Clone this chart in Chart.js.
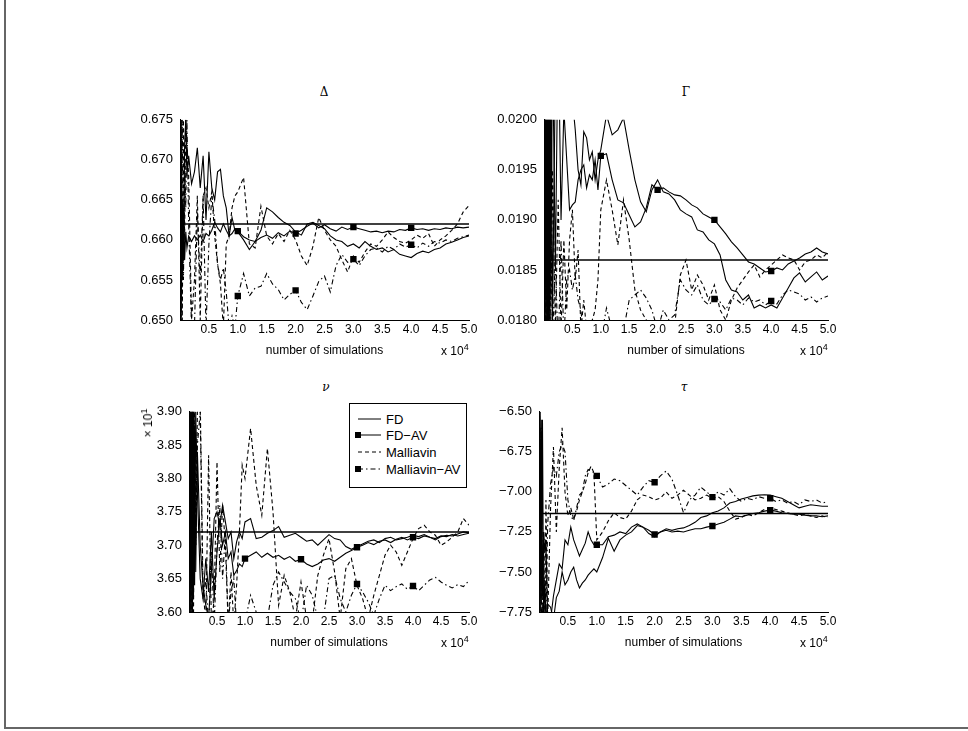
<!DOCTYPE html>
<html><head><meta charset="utf-8">
<script src="https://cdn.jsdelivr.net/npm/chart.js@4.4.1/dist/chart.umd.min.js"></script>
<style>
html,body{margin:0;padding:0;background:#fff;}
body{width:968px;height:731px;position:relative;overflow:hidden;font-family:"Liberation Sans",Arial,sans-serif;color:#000;}
#frame{position:absolute;left:4px;top:-2px;width:970px;height:729px;border-left:2px solid #666;border-bottom:2px solid #666;}
.panel{position:absolute;}
.panel canvas{display:block;}
.ttl{position:absolute;font-family:"DejaVu Serif","Liberation Serif",serif;font-size:12px;color:#000;transform:translate(-50%,-50%);white-space:nowrap;}
.exp{position:absolute;font-size:12px;white-space:nowrap;}
.exp sup{font-size:9px;vertical-align:5px;line-height:0;}
#legend{position:absolute;left:349px;top:403px;width:116px;height:83px;border:1px solid #000;background:#fff;font-size:13px;}
#legend svg{position:absolute;left:0;top:0;}
#legend span{position:absolute;left:36px;white-space:nowrap;transform:translateY(-50%);}
#yexp{position:absolute;left:148px;top:423px;font-size:12px;white-space:nowrap;transform:translate(-50%,-50%) rotate(-90deg);}
#yexp sup{font-size:9px;vertical-align:5px;line-height:0;}
</style>
</head><body>
<div id="frame"></div>

<div class="ttl" style="left:324px;top:92px;">Δ</div>
<div class="ttl" style="left:686px;top:92px;">Γ</div>
<div class="ttl" style="left:326px;top:387px;font-style:italic;">ν</div>
<div class="ttl" style="left:684px;top:387px;font-style:italic;">τ</div>

<div class="panel" style="left:100px;top:105px;"><canvas id="cDelta" width="384" height="265"></canvas></div>
<div class="panel" style="left:464px;top:105px;"><canvas id="cGamma" width="379" height="265"></canvas></div>
<div class="panel" style="left:109px;top:397px;"><canvas id="cVega" width="375" height="265"></canvas></div>
<div class="panel" style="left:459px;top:397px;"><canvas id="cTheta" width="384" height="265"></canvas></div>

<div class="exp" style="left:441px;top:344px;">x 10<sup>4</sup></div>
<div class="exp" style="left:800px;top:344px;">x 10<sup>4</sup></div>
<div class="exp" style="left:441px;top:636px;">x 10<sup>4</sup></div>
<div class="exp" style="left:800px;top:636px;">x 10<sup>4</sup></div>
<div id="yexp">× 10<sup>1</sup></div>

<div id="legend">
<svg width="116" height="83">
  <line x1="8" y1="15" x2="31" y2="15" stroke="#000" stroke-width="1"/>
  <line x1="8" y1="31" x2="31" y2="31" stroke="#000" stroke-width="1"/>
  <rect x="5" y="28" width="6" height="6" fill="#000"/>
  <line x1="8" y1="48" x2="31" y2="48" stroke="#000" stroke-width="1" stroke-dasharray="4,3"/>
  <line x1="8" y1="65" x2="31" y2="65" stroke="#000" stroke-width="1" stroke-dasharray="5,3,1.5,3"/>
  <rect x="5" y="62" width="6" height="6" fill="#000"/>
</svg>
<span style="top:15px;">FD</span>
<span style="top:31px;">FD−AV</span>
<span style="top:48px;">Malliavin</span>
<span style="top:65px;">Malliavin−AV</span>
</div>

<script>
// number of simulations (x 10^4)
const xs = [0.01,0.02,0.04,0.06,0.08,0.1,0.12,0.15,0.2,0.25,0.3,0.35,0.4,0.45,0.5,0.55,0.6,0.65,0.7,0.75,0.8,0.85,0.9,0.95,
  1.0,1.1,1.2,1.3,1.4,1.5,1.6,1.7,1.8,1.9,2.0,2.1,2.2,2.3,2.4,2.5,2.6,2.7,2.8,2.9,3.0,3.1,3.2,3.3,3.4,3.5,3.6,3.7,3.8,3.9,
  4.0,4.1,4.2,4.3,4.4,4.5,4.6,4.7,4.8,4.9,5.0];
const markerXs = [1.0, 2.0, 3.0, 4.0];
const xTicks = [0, 0.5, 1.0, 1.5, 2.0, 2.5, 3.0, 3.5, 4.0, 4.5, 5.0];

// ---- Delta ----
const deltaTrue = [0.6620];
const deltaFD = [0.675,0.650,0.665,0.6575,0.672,0.675,0.668,0.6705,0.667,0.6685,0.6715,0.6665,0.6705,0.6625,0.6710,0.6665,0.6650,0.6685,0.6688,0.6655,0.6640,0.6605,0.6628,0.6612,
  0.6610,0.6600,0.6588,0.6598,0.6612,0.6640,0.6635,0.6628,0.6622,0.6618,
  0.6610,0.6606,0.6620,0.6622,0.6618,0.6614,0.6605,0.6600,0.6598,0.6592,
  0.6595,0.6590,0.6598,0.6592,0.6588,0.6590,0.6585,0.6588,0.6582,0.6580,
  0.6578,0.6583,0.6586,0.6584,0.6588,0.6590,0.6595,0.6597,0.6600,0.6603,0.6605];
const deltaFDAV = [0.650,0.675,0.655,0.664,0.6575,0.661,0.659,0.6605,0.6598,0.6605,0.6600,0.6606,0.6598,0.6608,0.6605,0.6612,0.6622,0.6615,0.6610,0.6620,0.6612,0.6605,0.6608,0.6614,
  0.6611,0.6604,0.6600,0.6598,0.6603,0.6606,0.6602,0.6609,0.6605,0.6611,
  0.6608,0.6612,0.6617,0.6621,0.6615,0.6619,0.6614,0.6611,0.6616,0.6613,
  0.6616,0.6614,0.6612,0.6610,0.6611,0.6609,0.6611,0.6610,0.6613,0.6612,
  0.6615,0.6613,0.6614,0.6612,0.6614,0.6613,0.6615,0.6614,0.6616,0.6615,0.6616];
const deltaMal = [0.650,0.675,0.650,0.675,0.660,0.675,0.672,0.668,0.650,0.655,0.6655,0.650,0.6655,0.6665,0.664,0.666,0.6605,0.657,0.6545,0.649,0.6595,0.6605,0.664,0.6655,
  0.6660,0.6678,0.6595,0.6590,0.6642,0.6605,0.6595,0.6608,0.6598,0.6612,
  0.6600,0.6580,0.6568,0.6592,0.6628,0.6612,0.6600,0.6592,0.6575,0.6560,
  0.6580,0.6572,0.6585,0.6595,0.6592,0.6600,0.6610,0.6603,0.6598,0.6596,
  0.6600,0.6606,0.6602,0.6608,0.6592,0.6600,0.6605,0.6612,0.6620,0.6635,0.6643];
const deltaMalAV = [0.675,0.649,0.675,0.655,0.670,0.664,0.675,0.662,0.649,0.649,0.6635,0.655,0.6655,0.649,0.6595,0.6655,0.6625,0.657,0.655,0.6565,0.6535,0.649,0.6505,0.649,
  0.6530,0.6558,0.6530,0.6540,0.6542,0.6558,0.6545,0.6538,0.6525,0.6532,
  0.6537,0.6522,0.6513,0.6530,0.6548,0.6555,0.6535,0.6568,0.6582,0.6572,
  0.6576,0.6568,0.6580,0.6588,0.6590,0.6585,0.6592,0.6588,0.6595,0.6591,
  0.6594,0.6590,0.6596,0.6592,0.6598,0.6596,0.6600,0.6598,0.6602,0.6604,0.6606];
const deltaTicks = [0.650, 0.655, 0.660, 0.665, 0.670, 0.675];

// ---- Gamma ----
const gammaTrue = [0.0186];
const gammaFD = [0.0215,0.0175,0.0215,0.0175,0.0212,0.0178,0.0210,0.0180,0.0205,0.0210,0.0208,0.0206,0.0204,0.0203,0.0202,0.0199,0.0195,0.01935,0.01988,0.01982,0.0196,0.01968,0.0194,0.0196,
  0.0197,0.02005,0.01985,0.0199,0.02002,0.0197,0.0194,0.01918,0.01908,0.0193,
  0.0194,0.01928,0.01926,0.0192,0.0191,0.01906,0.01903,0.0189,0.01888,0.0188,
  0.01876,0.01865,0.0184,0.0183,0.01828,0.0182,0.01825,0.01812,0.01815,0.01812,
  0.01815,0.01812,0.01822,0.01832,0.01842,0.01847,0.01838,0.01843,0.01848,0.0184,0.01844];
const gammaFDAV = [0.0175,0.0215,0.0178,0.0212,0.0180,0.0210,0.0182,0.0208,0.0185,0.0210,0.0190,0.0201,0.0196,0.0191,0.01915,0.01918,0.0194,0.0195,0.01955,0.01932,0.01945,0.0194,0.0196,0.0193,
  0.01964,0.01966,0.0194,0.0192,0.01917,0.01905,0.01893,0.01898,0.01912,0.01935,
  0.0193,0.01932,0.01928,0.01925,0.01924,0.0192,0.01915,0.01912,0.01906,0.01903,
  0.0190,0.01893,0.01886,0.01878,0.01872,0.01865,0.01858,0.01856,0.01852,0.01848,
  0.01849,0.01852,0.0185,0.01856,0.01859,0.01862,0.01866,0.01868,0.01872,0.01868,0.01866];
const gammaMal = [0.0175,0.0205,0.0176,0.0200,0.0178,0.0198,0.0179,0.0195,0.0179,0.0192,0.0179,0.0188,0.0181,0.0188,0.0191,0.0184,0.0187,0.0179,0.0182,0.0179,0.0179,0.0180,0.0181,0.0184,
  0.0191,0.0194,0.0191,0.01875,0.0192,0.0188,0.0183,0.0181,0.0180,0.01795,
  0.0179,0.0179,0.0179,0.01795,0.01845,0.0186,0.0183,0.01845,0.01835,0.0182,
  0.01835,0.0181,0.0180,0.0182,0.01832,0.0184,0.01848,0.01855,0.01843,0.0185,
  0.01855,0.0186,0.01865,0.01862,0.0186,0.0185,0.01858,0.0186,0.01865,0.01862,0.01868];
const gammaMalAV = [0.0200,0.0175,0.0196,0.0175,0.0193,0.0176,0.0191,0.0178,0.0186,0.0177,0.0188,0.0178,0.0184,0.0185,0.0183,0.01845,0.0182,0.0181,0.0178,0.0179,0.01795,0.0178,0.0179,0.0178,
  0.0178,0.01812,0.0179,0.0178,0.0179,0.0182,0.01825,0.0183,0.01822,0.0181,
  0.0179,0.0181,0.0180,0.01805,0.0184,0.0183,0.01825,0.01835,0.0182,0.01815,
  0.01821,0.01818,0.0181,0.01822,0.0182,0.01815,0.01822,0.01818,0.0182,0.01815,
  0.01819,0.01816,0.01825,0.0183,0.01828,0.01826,0.0182,0.01823,0.01818,0.01822,0.01824];
const gammaTicks = [0.0180, 0.0185, 0.0190, 0.0195, 0.0200];

// ---- Vega (x 10^1) ----
const vegaTrue = [3.72];
const vegaFD = [3.55,3.95,3.58,3.95,3.62,3.88,3.66,3.84,3.70,3.64,3.61,3.59,3.66,3.74,3.75,3.73,3.76,3.735,3.71,3.72,3.68,3.705,3.72,3.71,
  3.735,3.74,3.71,3.712,3.718,3.722,3.728,3.712,3.715,3.718,
  3.712,3.706,3.708,3.70,3.708,3.716,3.71,3.708,3.698,3.694,
  3.698,3.702,3.706,3.708,3.704,3.71,3.712,3.708,3.71,3.712,
  3.715,3.713,3.716,3.712,3.71,3.714,3.713,3.716,3.714,3.716,3.718];
const vegaFDAV = [3.95,3.55,3.95,3.55,3.92,3.64,3.90,3.78,3.65,3.62,3.68,3.63,3.72,3.62,3.69,3.74,3.70,3.72,3.68,3.69,3.655,3.662,3.672,3.668,
  3.68,3.685,3.69,3.682,3.688,3.682,3.685,3.679,3.683,3.676,
  3.679,3.672,3.668,3.672,3.678,3.68,3.676,3.682,3.688,3.692,
  3.697,3.70,3.704,3.701,3.706,3.708,3.704,3.709,3.712,3.708,
  3.712,3.71,3.714,3.712,3.708,3.713,3.715,3.714,3.717,3.72,3.719];
const vegaMal = [3.58,3.90,3.55,3.95,3.58,3.95,3.70,3.90,3.92,3.64,3.58,3.835,3.58,3.62,3.825,3.66,3.76,3.70,3.58,3.66,3.58,3.64,3.72,3.82,
  3.80,3.875,3.79,3.745,3.845,3.75,3.61,3.655,3.63,3.59,
  3.645,3.59,3.585,3.655,3.685,3.71,3.66,3.59,3.665,3.68,
  3.64,3.62,3.59,3.625,3.655,3.685,3.70,3.69,3.67,3.69,
  3.71,3.725,3.73,3.72,3.715,3.70,3.705,3.712,3.72,3.74,3.73];
const vegaMalAV = [3.95,3.58,3.90,3.62,3.90,3.85,3.70,3.85,3.90,3.62,3.65,3.58,3.69,3.58,3.70,3.76,3.65,3.72,3.58,3.63,3.65,3.58,3.58,3.59,
  3.585,3.625,3.60,3.59,3.59,3.64,3.66,3.645,3.63,3.62,
  3.585,3.64,3.625,3.59,3.59,3.65,3.655,3.62,3.60,3.625,
  3.642,3.63,3.615,3.595,3.62,3.64,3.632,3.638,3.642,3.634,
  3.639,3.632,3.64,3.648,3.652,3.645,3.64,3.636,3.641,3.638,3.647];
const vegaTicks = [3.60, 3.65, 3.70, 3.75, 3.80, 3.85, 3.90];

// ---- Theta ----
const thetaTrue = [-7.135];
const thetaFD = [-7.80,-6.50,-7.70,-6.55,-7.80,-7.55,-7.80,-7.70,-7.72,-7.80,-7.66,-7.62,-7.50,-7.58,-7.55,-7.50,-7.47,-7.55,-7.60,-7.57,-7.55,-7.52,-7.50,-7.48,
  -7.50,-7.41,-7.29,-7.37,-7.30,-7.27,-7.25,-7.21,-7.22,-7.26,
  -7.28,-7.25,-7.23,-7.24,-7.23,-7.225,-7.21,-7.19,-7.16,-7.15,
  -7.13,-7.12,-7.10,-7.07,-7.06,-7.045,-7.035,-7.025,-7.02,-7.018,
  -7.02,-7.03,-7.04,-7.06,-7.08,-7.10,-7.09,-7.08,-7.085,-7.09,-7.09];
const thetaFDAV = [-6.45,-7.80,-6.55,-7.65,-7.25,-7.38,-7.30,-7.80,-7.80,-7.65,-7.55,-7.45,-7.48,-7.30,-7.33,-7.22,-7.30,-7.35,-7.40,-7.36,-7.32,-7.25,-7.30,-7.33,
  -7.33,-7.33,-7.28,-7.27,-7.25,-7.26,-7.22,-7.20,-7.22,-7.24,
  -7.266,-7.25,-7.24,-7.25,-7.245,-7.25,-7.24,-7.23,-7.23,-7.22,
  -7.213,-7.20,-7.19,-7.17,-7.15,-7.155,-7.145,-7.135,-7.13,-7.12,
  -7.114,-7.12,-7.13,-7.135,-7.14,-7.14,-7.145,-7.15,-7.15,-7.155,-7.15];
const thetaMal = [-7.80,-6.60,-7.80,-7.50,-7.25,-7.80,-7.05,-7.80,-7.10,-6.72,-7.25,-6.85,-6.60,-7.00,-7.15,-7.10,-7.17,-7.12,-7.05,-7.00,-6.95,-6.88,-6.84,-6.88,
  -7.30,-7.25,-7.18,-7.13,-7.16,-7.17,-7.12,-7.05,-7.02,-7.03,
  -7.05,-7.04,-7.00,-7.04,-7.02,-6.99,-7.02,-7.05,-7.04,-7.02,
  -7.04,-7.03,-7.06,-7.12,-7.17,-7.16,-7.14,-7.15,-7.13,-7.11,
  -7.10,-7.11,-7.12,-7.13,-7.14,-7.15,-7.14,-7.15,-7.16,-7.15,-7.16];
const thetaMalAV = [-6.45,-7.80,-6.60,-7.80,-7.25,-7.35,-7.80,-7.20,-6.95,-6.85,-6.90,-6.75,-6.70,-6.75,-7.05,-7.15,-7.18,-7.10,-7.02,-7.00,-6.90,-6.86,-6.87,-6.88,
  -6.90,-6.97,-6.95,-6.92,-6.93,-6.96,-6.99,-7.02,-6.97,-6.93,
  -6.94,-6.90,-6.87,-6.92,-7.02,-7.13,-7.05,-7.02,-6.97,-7.00,
  -7.033,-7.00,-7.02,-6.98,-7.03,-7.06,-7.04,-7.05,-7.03,-7.04,
  -7.04,-7.06,-7.05,-7.07,-7.06,-7.08,-7.05,-7.06,-7.05,-7.07,-7.06];
const thetaTicks = [-7.75, -7.50, -7.25, -7.00, -6.75, -6.50];

const seriesNames = ['FD', 'FD-AV', 'Malliavin', 'Malliavin-AV'];
const xLabel = 'number of simulations';

const FONT = '"Liberation Sans", Arial, sans-serif';

function pts(arr) { return xs.map((x, i) => ({x: x, y: arr[i]})); }

function lineDs(label, arr, dash, marker) {
  return {
    label: label, data: pts(arr), borderColor: '#000', backgroundColor: '#000',
    borderWidth: 1.1, borderDash: dash, tension: 0, fill: false,
    pointStyle: 'rect', pointBorderWidth: 0,
    pointRadius: (ctx) => (marker && markerXs.includes(xs[ctx.dataIndex])) ? 4.5 : 0,
    pointHoverRadius: 0
  };
}

function makeChart(id, s, trueVal, ticks, decimals) {
  const yMin = ticks[0], yMax = ticks[ticks.length - 1];
  new Chart(document.getElementById(id), {
    type: 'line',
    data: {
      datasets: [
        lineDs(seriesNames[0], s[0], [], false),
        lineDs(seriesNames[1], s[1], [], true),
        lineDs(seriesNames[2], s[2], [4, 3], false),
        lineDs(seriesNames[3], s[3], [5, 3, 1.5, 3], true),
        { label: 'true', data: [{x: 0, y: trueVal[0]}, {x: 5, y: trueVal[0]}], borderColor: '#000',
          borderWidth: 1.5, pointRadius: 0, pointHoverRadius: 0, fill: false }
      ]
    },
    options: {
      responsive: false, animation: false, devicePixelRatio: 1,
      layout: { padding: { top: 10, right: 15, left: 0, bottom: 0 } },
      plugins: { legend: { display: false }, tooltip: { enabled: false } },
      scales: {
        x: {
          type: 'linear', min: 0, max: 5,
          afterFit: (sc) => { sc.height = 50; },
          grid: { display: false, drawTicks: false },
          border: { display: true, color: '#000', width: 1 },
          afterBuildTicks: (sc) => { sc.ticks = xTicks.map(v => ({value: v})); },
          ticks: { color: '#000', font: { family: FONT, size: 12 }, padding: 2, maxRotation: 0, autoSkip: false,
                   callback: (v) => v === 0 ? '' : Number(v).toFixed(1) },
          title: { display: true, text: xLabel, color: '#000', font: { family: FONT, size: 12 },
                   padding: { top: 0, bottom: 12 } }
        },
        y: {
          min: yMin, max: yMax,
          afterFit: (sc) => { sc.width = 80; },
          grid: { display: false, drawTicks: false },
          border: { display: true, color: '#000', width: 1 },
          afterBuildTicks: (sc) => { sc.ticks = ticks.map(v => ({value: v})); },
          ticks: { color: '#000', font: { family: FONT, size: 13 }, padding: 7,
                   callback: (v) => Number(v).toFixed(decimals).replace('-', '−') }
        }
      }
    }
  });
}

makeChart('cDelta', [deltaFD, deltaFDAV, deltaMal, deltaMalAV], deltaTrue, deltaTicks, 3);
makeChart('cGamma', [gammaFD, gammaFDAV, gammaMal, gammaMalAV], gammaTrue, gammaTicks, 4);
makeChart('cVega', [vegaFD, vegaFDAV, vegaMal, vegaMalAV], vegaTrue, vegaTicks, 2);
makeChart('cTheta', [thetaFD, thetaFDAV, thetaMal, thetaMalAV], thetaTrue, thetaTicks, 2);
</script>
</body></html>
